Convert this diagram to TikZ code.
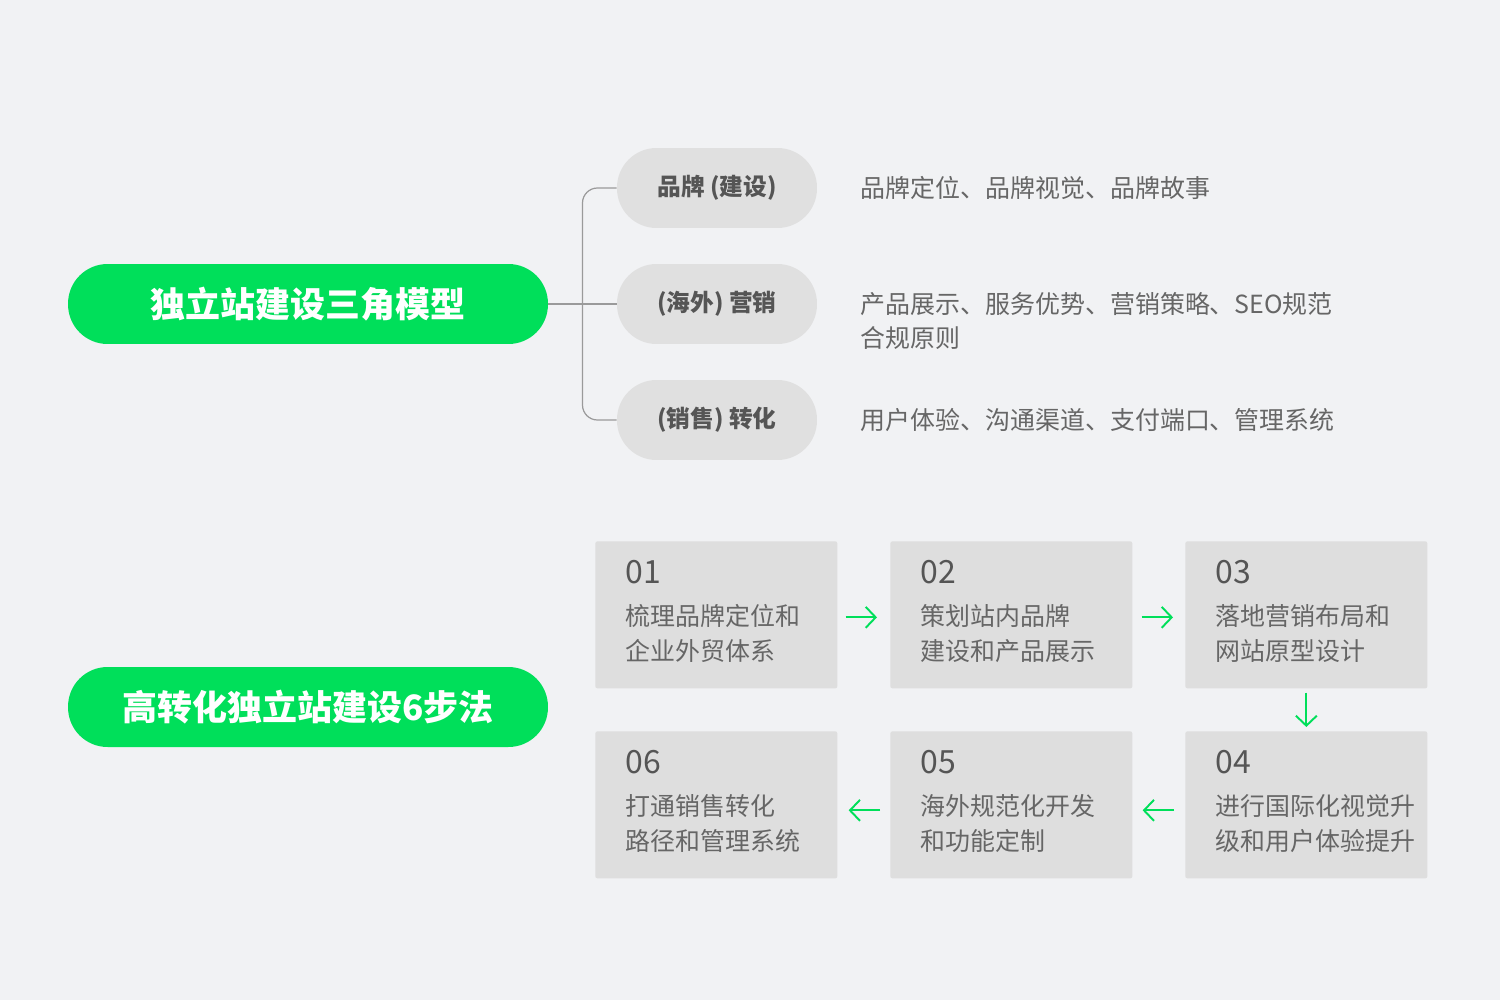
\documentclass[tikz,border=0pt]{standalone}
\usepackage{fontspec}
\setmainfont{Noto Sans CJK SC}
\usetikzlibrary{positioning,calc,arrows.meta}
\definecolor{bggray}{HTML}{F1F2F4}
\definecolor{pillgreen}{HTML}{00DF5A}
\definecolor{pillgray}{HTML}{E0E0E0}
\definecolor{boxgray}{HTML}{DEDEDE}
\definecolor{inkdark}{HTML}{555555}
\definecolor{inklight}{HTML}{666666}
\definecolor{wiregray}{HTML}{9A9A9A}
\tikzset{flow/.style = {draw=pillgreen,line width=1.1pt,-{Straight Barb[length=0.2cm,width=0.42cm]}}}

\begin{document}
\begin{tikzpicture}[x=0.02cm,y=-0.02cm,
  title node/.style={rectangle,rounded corners=0.79cm,fill=pillgreen,text=white,minimum width=9.6cm,minimum height=1.6cm,font=\fontsize{19.9}{24}\selectfont\bfseries},
  tag node/.style={rectangle,rounded corners=0.79cm,fill=pillgray,text=inkdark,minimum width=4cm,minimum height=1.6cm,font=\fontsize{13.5}{16}\selectfont\bfseries},
  desc node/.style={text=inklight,inner sep=0pt,align=left,font=\fontsize{14.2}{19.3}\selectfont},
  step node/.style={rectangle,rounded corners=0.04cm,fill=boxgray,minimum width=4.84cm,minimum height=2.94cm,anchor=north west},
  step num/.style={text=inkdark,inner sep=0pt,anchor=west,font=\fontsize{18.2}{22}\selectfont},
  step text/.style={text=inklight,inner sep=0pt,anchor=west,align=left,font=\fontsize{14.2}{19.9}\selectfont},
  wire/.style={draw=wiregray,line width=0.7pt}]
  \fill[bggray] (0,0) rectangle (1500,1000);

  % left titles
  \node[title node] (m1) at (308,304) {独立站建设三角模型};
  \node[title node] (m2) at (308,707) {高转化独立站建设6步法};

  % triangle model
  \node[tag node] (p1) at (717,188) {品牌 (建设)};
  \node[tag node] (p2) at (717,304) {(海外) 营销};
  \node[tag node] (p3) at (717,420) {(销售) 转化};

  \node[desc node,right=0.86cm of p1] (d1) {品牌定位、品牌视觉、品牌故事};
  \node[desc node,right=0.86cm of p2,yshift=-0.34cm] (d2) {产品展示、服务优势、营销策略、SEO规范\\合规原则};
  \node[desc node,right=0.86cm of p3] (d3) {用户体验、沟通渠道、支付端口、管理系统};

  \coordinate (j) at ($(m1.east)!0.5!(p2.west)$);
  \draw[wire] (m1.east) -- (p2.west);
  \draw[wire,rounded corners=0.3cm] (p1.west) -| (j) |- (p3.west);

  % six steps
  \foreach \n/\px/\py/\la/\lb in {01/595/541/梳理品牌定位和/企业外贸体系,
      02/890/541/策划站内品牌/建设和产品展示,
      03/1185/541/落地营销布局和/网站原型设计,
      04/1185/731/进行国际化视觉升/级和用户体验提升,
      05/890/731/海外规范化开发/和功能定制,
      06/595/731/打通销售转化/路径和管理系统}{
    \node[step node] (s\n) at (\px,\py) {};
    \node[step num] (n\n) at ($(s\n.north west)+(30,31)$) {\n};
    \node[step text] (t\n) at ($(s\n.north west)+(30,92.5)$) {\la\\\lb};
  }

  \draw[flow,shorten <=0.16cm,shorten >=0.26cm] ([yshift=-0.05cm]s01.east) -- ([yshift=-0.05cm]s02.west);
  \draw[flow,shorten <=0.18cm,shorten >=0.24cm] ([yshift=-0.05cm]s02.east) -- ([yshift=-0.05cm]s03.west);
  \draw[flow,shorten <=0.08cm,shorten >=0.08cm] (s03) -- (s04);
  \draw[flow,shorten <=0.22cm,shorten >=0.2cm] ([yshift=-0.11cm]s04.west) -- ([yshift=-0.11cm]s05.east);
  \draw[flow,shorten <=0.2cm,shorten >=0.22cm] ([yshift=-0.11cm]s05.west) -- ([yshift=-0.11cm]s06.east);
\end{tikzpicture}
\end{document}
